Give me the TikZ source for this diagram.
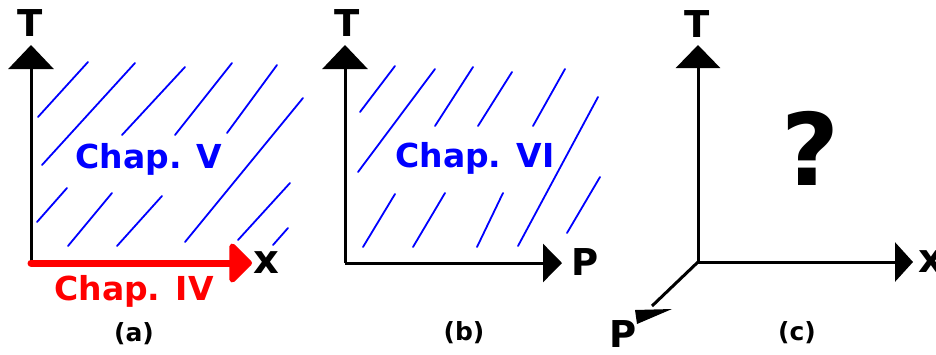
\documentclass[tikz,border=0pt]{standalone}
\usepackage{fontspec}
\setmainfont{DejaVu Sans}
\usetikzlibrary{arrows.meta}

\begin{document}
\begin{tikzpicture}[x=1pt,y=-1pt,line join=miter]
  \useasboundingbox (0,0) rectangle (936,354);
  \tikzset{
    axisline/.style={line width=3pt},
    hatch/.style={blue,line width=1.8pt,line cap=round},
    lbl/.style={font=\fontsize{37}{37}\selectfont\bfseries,anchor=base,inner sep=0pt},
    smalllbl/.style={font=\fontsize{40}{40}\selectfont\bfseries,anchor=base,inner sep=0pt},
    chap/.style={font=\fontsize{33}{33}\selectfont\bfseries,anchor=base,inner sep=0pt},
    caption/.style={font=\fontsize{25}{25}\selectfont\bfseries,anchor=base,inner sep=0pt}
  }

  % (a) T--x
  \coordinate (oa) at (31,263);
  \coordinate (ta) at (31,45);
  \coordinate (xa) at (252,263);
  \foreach \a/\b/\c/\d in {38/117/88/62, 42/165/135/63, 122/135/185/67,
      175/135/232/63, 227/133/277/65, 185/242/303/98, 37/222/67/188,
      68/246/112/193, 117/246/162/196, 238/240/290/183, 273/245/288/228} {
    \draw[hatch] (\a,\b) -- (\c,\d);
  }
  \draw[axisline,-{Triangle[length=24pt,width=45pt]}] (oa) -- (ta);
  \draw[red,line width=7pt,line cap=round,-{Triangle[length=24pt,width=46pt,round]}] (oa) -- (xa);
  \node[lbl] (tlabela) at (30,36) {T};
  \node[smalllbl] (xlabela) at (266,273) {x};
  \node[chap,blue] (chapv) at (149,168) {Chap. V};
  \node[chap,red] (chapiv) at (134,300) {Chap. IV};
  \node[caption] (capa) at (134,341) {(a)};

  % (b) T--P
  \coordinate (ob) at (345,263);
  \coordinate (tb) at (345,45);
  \coordinate (pb) at (562,263);
  \foreach \a/\b/\c/\d in {360/112/395/66, 358/172/435/69, 435/126/473/67,
      478/126/512/72, 533/126/565/69, 518/246/598/97, 363/247/395/194,
      413/247/445/193, 477/247/503/193, 567/233/600/177} {
    \draw[hatch] (\a,\b) -- (\c,\d);
  }
  \draw[axisline,-{Triangle[length=24pt,width=45pt]}] (ob) -- (tb);
  \draw[axisline,-{Triangle[length=19pt,width=38pt]}] (ob) -- (pb);
  \node[lbl] (tlabelb) at (347,36) {T};
  \node[lbl] (plabelb) at (585,275) {P};
  \node[chap,blue] (chapvi) at (475,167) {Chap. VI};
  \node[caption] (capb) at (464,340) {(b)};

  % (c) T--x--P
  \coordinate (oc) at (698,262);
  \coordinate (tc) at (698,45);
  \coordinate (xc) at (913,262);
  \coordinate (pc) at (652,306);
  \draw[axisline,-{Triangle[length=23pt,width=44pt]}] (oc) -- (tc);
  \draw[axisline,-{Triangle[length=18pt,width=39pt]}] (oc) -- (xc);
  \draw[axisline] (oc) -- (pc);
  \fill (635,310) -- (672,309) -- (637,324) -- cycle;
  \node[lbl] (tlabelc) at (697,37) {T};
  \node[smalllbl] (xlabelc) at (931,272) {x};
  \node[lbl,text depth=0pt] (plabelc) at (623,347) {P};
  \node[font=\fontsize{100}{100}\selectfont\bfseries,anchor=base,inner sep=0pt] (quest) at (810,185) {?};
  \node[caption] (capc) at (797,340) {(c)};
\end{tikzpicture}
\end{document}
